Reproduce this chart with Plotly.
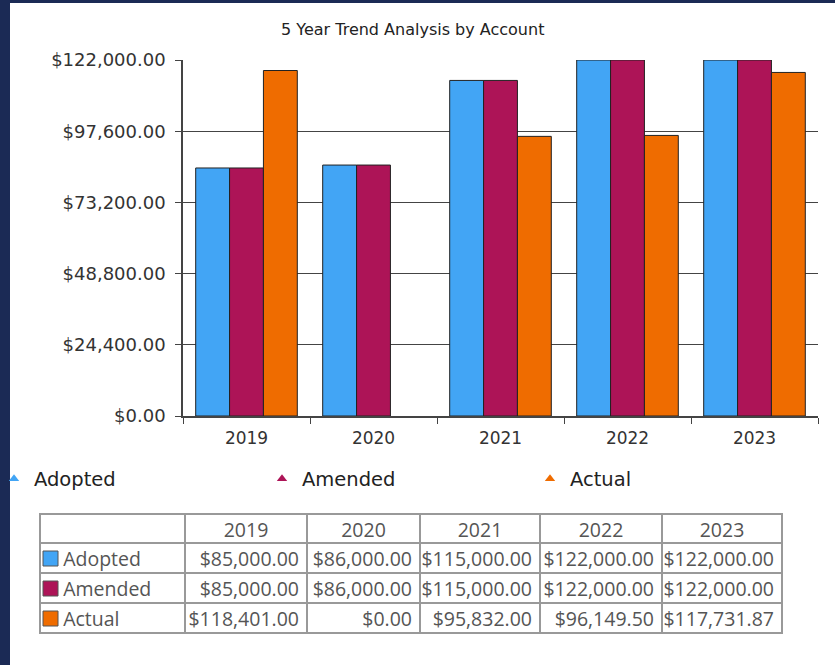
import plotly.graph_objects as go

years = ["2019", "2020", "2021", "2022", "2023"]
adopted = [85000.00, 86000.00, 115000.00, 122000.00, 122000.00]
amended = [85000.00, 86000.00, 115000.00, 122000.00, 122000.00]
actual = [118401.00, 0.00, 95832.00, 96149.50, 117731.87]
series_names = ["Adopted", "Amended", "Actual"]
series_colors = ["#42a5f5", "#ad1457", "#ef6c00"]
y_ticks = [0, 24400, 48800, 73200, 97600, 122000]

W, H = 835, 665
def px_x(p):
    return p / W
def px_y(p):
    return 1 - p / H

series = [adopted, amended, actual]
fig = go.Figure()
for name, vals, col in zip(series_names, series, series_colors):
    fig.add_trace(go.Bar(
        x=years, y=vals, name=name, showlegend=False,
        marker=dict(color=col,
                    line=dict(color="#222222", width=[1 if v else 0 for v in vals])),
        hoverinfo="x+y+name",
    ))
# legend entries (small triangle icons)
for name, col in zip(series_names, series_colors):
    fig.add_trace(go.Scatter(
        x=[None], y=[None], mode="markers", name=name,
        marker=dict(symbol="triangle-up", size=9, color=col),
    ))

def money(v):
    return "${:,.2f}".format(v)

NB = "\u00a0"
first_col = [NB * 3 + n for n in series_names]
cols = [first_col]
for i in range(len(years)):
    cols.append([money(s[i]) for s in series])

tbl_top, hdr_h, row_h = 514, 29, 30
fig.add_trace(go.Table(
    domain=dict(x=[px_x(40), px_x(782)], y=[px_y(tbl_top + hdr_h + 3 * row_h + 8), px_y(tbl_top)]),
    columnwidth=[145, 122, 113, 120, 122, 120],
    header=dict(values=[""] + years, height=hdr_h, align="center",
                fill=dict(color="white"), line=dict(color="#999999", width=2),
                font=dict(family="Open Sans", size=19.5, color="#555555")),
    cells=dict(values=cols, height=row_h, align=["left"] + ["right"] * 5,
               fill=dict(color="white"), line=dict(color="#999999", width=2),
               font=dict(family="Open Sans", size=19.5, color="#555555")),
))

# navy frame strips + legend colour squares inside the table's first column
shapes = [
    dict(type="rect", xref="paper", yref="paper", x0=0, x1=px_x(10), y0=0, y1=1,
         fillcolor="#1b2a55", line=dict(width=0), layer="above"),
    dict(type="rect", xref="paper", yref="paper", x0=0, x1=1, y0=px_y(3), y1=1,
         fillcolor="#1b2a55", line=dict(width=0), layer="above"),
]
for i, col in enumerate(series_colors):
    cy = tbl_top + hdr_h + row_h * i + row_h / 2
    shapes.append(dict(type="rect", xref="paper", yref="paper",
                       x0=px_x(43), x1=px_x(58), y0=px_y(cy + 8), y1=px_y(cy - 7),
                       fillcolor=col, line=dict(color="#555555", width=1), layer="above"))

fig.update_layout(
    width=W, height=H,
    margin=dict(l=0, r=0, t=0, b=0, autoexpand=False),
    paper_bgcolor="white", plot_bgcolor="white",
    barmode="group", bargap=0.2, bargroupgap=0,
    font=dict(family="DejaVu Sans", color="#333333"),
    xaxis=dict(domain=[px_x(183), px_x(818)], type="category",
               showline=True, linecolor="#444444", linewidth=1.5,
               ticks="outside", tickson="boundaries", ticklen=6, tickcolor="#444444",
               ticklabelstandoff=6,
               tickfont=dict(size=17, color="#333333"), showgrid=False),
    yaxis=dict(domain=[px_y(416), px_y(60)], range=[0, 122000],
               tickvals=y_ticks, ticktext=[money(v) for v in y_ticks],
               showline=True, linecolor="#444444", linewidth=1.5,
               ticks="outside", ticklen=6, tickcolor="#444444",
               ticklabelstandoff=6,
               showgrid=True, gridcolor="#444444", gridwidth=1.2,
               zeroline=False,
               tickfont=dict(size=18, color="#333333")),
    legend=dict(orientation="h", x=0, y=px_y(479), yanchor="middle",
                xanchor="left", entrywidth=229, entrywidthmode="pixels",
                indentation=-6,
                font=dict(size=19.5, color="#222222"), bgcolor="rgba(0,0,0,0)"),
    annotations=[dict(text="5 Year Trend Analysis by Account", x=px_x(412), y=px_y(29),
                      xref="paper", yref="paper", showarrow=False,
                      xanchor="center", yanchor="middle",
                      font=dict(size=16, color="#222222"))],
    shapes=shapes,
)

post = "document.body.style.margin='0';document.body.style.overflow='hidden';"
fig.write_html("out.html", config={"displayModeBar": False}, post_script=post)
